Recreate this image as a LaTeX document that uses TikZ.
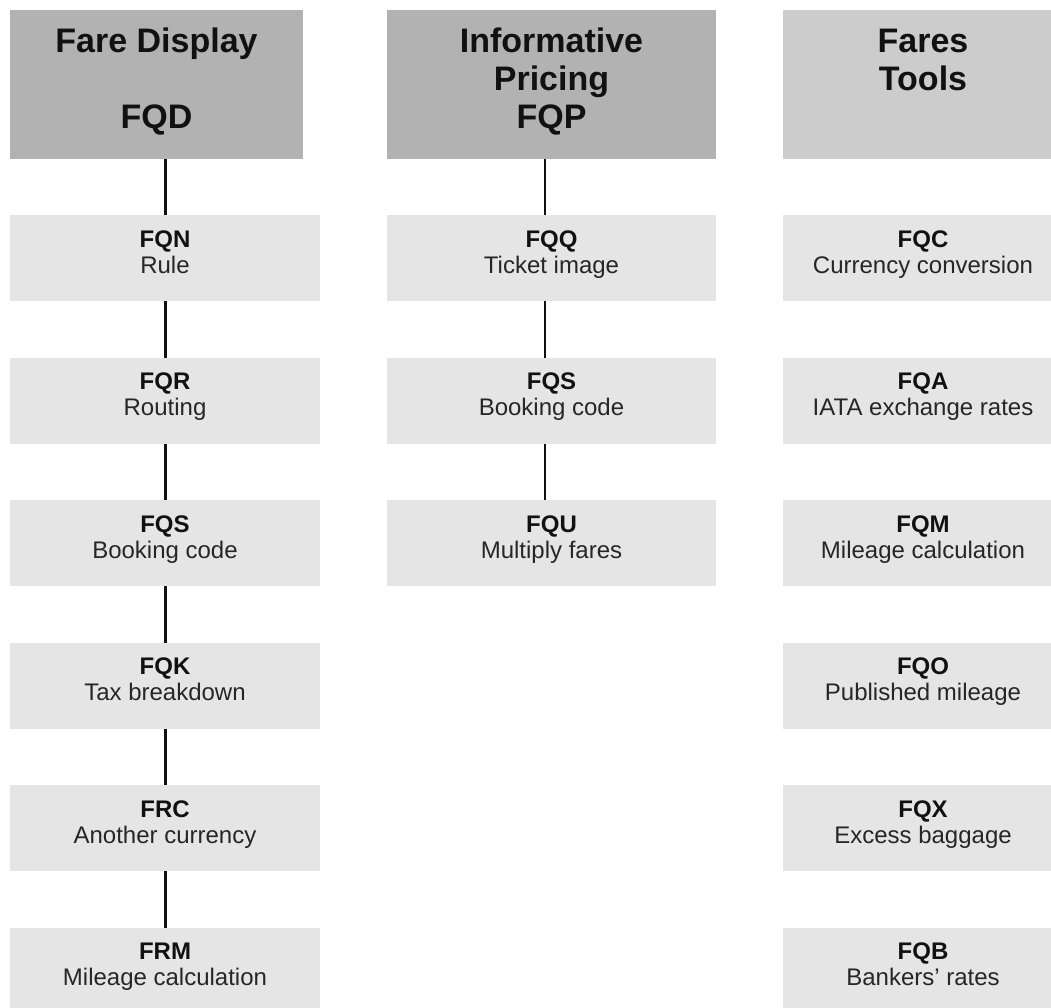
\documentclass[tikz,border=0pt]{standalone}
\usepackage{fontspec}
\setmainfont{Liberation Sans}
\definecolor{hdrdark}{HTML}{B2B2B2}
\definecolor{hdrlight}{HTML}{CCCCCC}
\definecolor{cellfill}{HTML}{E5E5E5}
\definecolor{subtext}{HTML}{262626}
\definecolor{maintext}{HTML}{111111}
\begin{document}
\begin{tikzpicture}[x=1pt,y=-1pt,
  box/.style={rectangle,inner sep=0pt,outer sep=0pt,anchor=north west,draw=none},
  hdrbox/.style={box,fill=hdrdark,minimum height=149pt},
  cellbox/.style={box,fill=cellfill,minimum height=86pt},
  htext/.style={anchor=base,inner sep=0pt,font=\fontsize{34}{38}\selectfont\bfseries,text=maintext},
  codetext/.style={anchor=base,inner sep=0pt,font=\fontsize{24}{26}\selectfont\bfseries,text=maintext},
  desctext/.style={anchor=base,inner sep=0pt,font=\fontsize{24}{26}\selectfont,text=subtext},
  thicklink/.style={line width=3pt,draw=maintext},
  thinlink/.style={line width=1.3pt,draw=maintext}]
\useasboundingbox (0,0) rectangle (1051,1007);
\clip (0,0) rectangle (1051,1007);
\fill[white] (0,0) rectangle (1051,1007);

% headers
\node[hdrbox,minimum width=293pt] (h1) at (10,10) {};
\node[hdrbox,minimum width=329pt] (h2) at (387,10) {};
\node[hdrbox,fill=hdrlight,minimum width=280pt] (h3) at (783,10) {};

\node[htext] (h1a) at ([yshift=-42pt]h1.north) {Fare Display};
\node[htext] (h1b) at ([yshift=-118pt]h1.north) {FQD};
\node[htext] (h2a) at ([yshift=-42pt]h2.north) {Informative};
\node[htext] (h2b) at ([yshift=-80pt]h2.north) {Pricing};
\node[htext] (h2c) at ([yshift=-118pt]h2.north) {FQP};
\node[htext] (h3a) at ([yshift=-42pt]h3.north) {Fares};
\node[htext] (h3b) at ([yshift=-80pt]h3.north) {Tools};

% column 1
\foreach \cc/\dd [count=\i] in {FQN/Rule,FQR/Routing,FQS/Booking code,FQK/Tax breakdown,FRC/Another currency,FRM/Mileage calculation}{
  \pgfmathsetmacro\yy{215+(\i-1)*142.5}
  \node[cellbox,minimum width=310pt] (a\i) at (10,\yy) {};
  \node[codetext] (ac\i) at ([yshift=-32pt]a\i.north) {\cc};
  \node[desctext] (ad\i) at ([yshift=-58pt]a\i.north) {\dd};
}
% column 2
\foreach \cc/\dd [count=\i] in {FQQ/Ticket image,FQS/Booking code,FQU/Multiply fares}{
  \pgfmathsetmacro\yy{215+(\i-1)*142.5}
  \node[cellbox,minimum width=329pt] (b\i) at (387,\yy) {};
  \node[codetext] (bc\i) at ([yshift=-32pt]b\i.north) {\cc};
  \node[desctext] (bd\i) at ([yshift=-58pt]b\i.north) {\dd};
}
% column 3
\foreach \cc/\dd [count=\i] in {FQC/Currency conversion,FQA/IATA exchange rates,FQM/Mileage calculation,FQO/Published mileage,FQX/Excess baggage,FQB/Bankers’ rates}{
  \pgfmathsetmacro\yy{215+(\i-1)*142.5}
  \node[cellbox,minimum width=280pt] (c\i) at (783,\yy) {};
  \node[codetext] (cc\i) at ([yshift=-32pt]c\i.north) {\cc};
  \node[desctext] (cd\i) at ([yshift=-58pt]c\i.north) {\dd};
}

% connectors column 1
\draw[thicklink] (a1.north) -- (a1.north |- h1.south);
\foreach \i/\j in {1/2,2/3,3/4,4/5,5/6}
  \draw[thicklink] (a\i.south) -- (a\j.north);

% connectors column 2 (slightly left of centre)
\foreach \i in {1,2,3}{
  \coordinate (bt\i) at ([xshift=-6.5pt]b\i.north);
  \coordinate (bb\i) at ([xshift=-6.5pt]b\i.south);
}
\draw[thinlink] (bt1) -- (bt1 |- h2.south);
\draw[thinlink] (bb1) -- (bt2);
\draw[thinlink] (bb2) -- (bt3);
\end{tikzpicture}
\end{document}
